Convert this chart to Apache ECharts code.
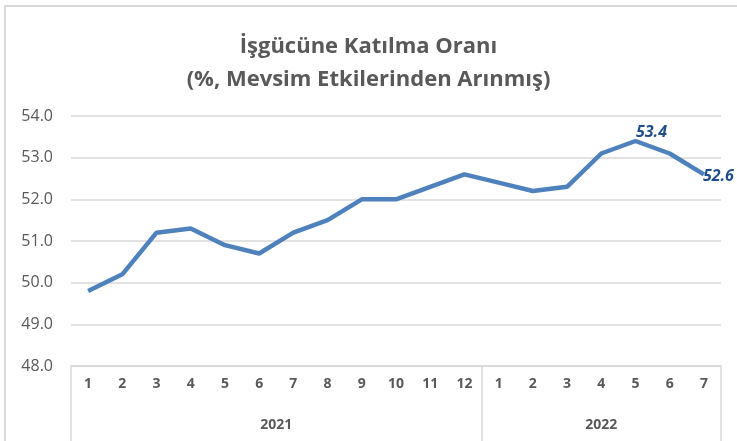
<!DOCTYPE html>
<html>
<head>
<meta charset="utf-8">
<script src="https://cdn.jsdelivr.net/npm/echarts@6/dist/echarts.min.js"></script>
<style>
  html, body { margin: 0; padding: 0; background: #fff; }
  #chart { position: absolute; left: 0; top: 0; width: 737px; height: 441px; }
  #frame { position: absolute; left: 4px; top: 5px; width: 740px; height: 440px;
           border-top: 2px solid #d9d9d9; border-left: 2px solid #d9d9d9; pointer-events: none; }
</style>
</head>
<body>
<div id="chart"></div>
<div id="frame"></div>
<script>
// data
var years = ['2021', '2022'];
var months2021 = ['1','2','3','4','5','6','7','8','9','10','11','12'];
var months2022 = ['1','2','3','4','5','6','7'];
var values2021 = [49.8, 50.2, 51.2, 51.3, 50.9, 50.7, 51.2, 51.5, 52.0, 52.0, 52.3, 52.6];
var values2022 = [52.4, 52.2, 52.3, 53.1, 53.4, 53.1, 52.6];
var yTicks = [48, 49, 50, 51, 52, 53, 54];

var months = months2021.concat(months2022);
var values = values2021.concat(values2022);
var labeled = [months.length - 3, months.length - 1];

// year axis: half-category steps, no boundary gap, so year label sits mid-span
var groups = [months2021.length, months2022.length];
var yearCats = [];
var yearCenter = {};
var bounds = [0];
var pos = 0;
groups.forEach(function (n, i) {
  yearCenter[pos * 2 + n] = years[i];
  pos += n;
  bounds.push(pos * 2);
});
for (var k = 0; k <= months.length * 2; k++) yearCats.push(yearCenter[k] || '');

var seriesData = values.map(function (v, i) {
  if (labeled.indexOf(i) < 0) return v;
  var last = i === values.length - 1;
  return {
    value: v,
    label: {
      show: true,
      position: last ? 'right' : 'top',
      offset: last ? [-6, 2] : [16, 4],
      formatter: function (p) { return p.value.toFixed(1); }
    }
  };
});

var chart = echarts.init(document.getElementById('chart'));
chart.setOption({
  animation: false,
  title: {
    text: 'İşgücüne Katılma Oranı\n(%, Mevsim Etkilerinden Arınmış)',
    left: 'center',
    top: 25,
    textStyle: {
      fontFamily: 'Open Sans',
      fontWeight: 'bold',
      fontSize: 22,
      lineHeight: 33,
      color: '#595959'
    }
  },
  grid: { left: 71, right: 16, top: 116, bottom: 75 },
  xAxis: [{
    type: 'category',
    data: months,
    axisLine: { lineStyle: { color: '#d9d9d9', width: 1.5 } },
    axisTick: { show: false },
    axisLabel: {
      interval: 0,
      margin: 11,
      fontFamily: 'Open Sans',
      fontWeight: 'bold',
      fontSize: 14,
      color: '#595959'
    }
  }, {
    type: 'category',
    data: yearCats,
    boundaryGap: false,
    position: 'bottom',
    axisLine: { show: false },
    axisTick: {
      show: true,
      length: 80,
      interval: function (idx) { return bounds.indexOf(idx) >= 0; },
      lineStyle: { color: '#d9d9d9', width: 1.5 }
    },
    axisLabel: {
      interval: 0,
      margin: 52,
      fontFamily: 'Open Sans',
      fontWeight: 'bold',
      fontSize: 14,
      color: '#595959'
    }
  }],
  yAxis: {
    type: 'value',
    min: yTicks[0],
    max: yTicks[yTicks.length - 1],
    interval: 1,
    axisLine: { show: false },
    axisTick: { show: false },
    splitLine: { lineStyle: { color: '#d9d9d9', width: 1.5 } },
    axisLabel: {
      margin: 18,
      fontFamily: 'Open Sans',
      fontSize: 16,
      color: '#595959',
      formatter: function (v) { return v.toFixed(1); }
    }
  },
  series: [{
    type: 'line',
    xAxisIndex: 0,
    data: seriesData,
    showSymbol: true,
    symbol: 'circle',
    symbolSize: 0,
    lineStyle: { color: '#4f81bd', width: 4.5 },
    itemStyle: { color: '#4f81bd' },
    label: {
      fontFamily: 'Open Sans',
      fontStyle: 'italic',
      fontWeight: 'bold',
      fontSize: 16,
      color: '#1f4e8c'
    }
  }]
});
</script>
</body>
</html>
